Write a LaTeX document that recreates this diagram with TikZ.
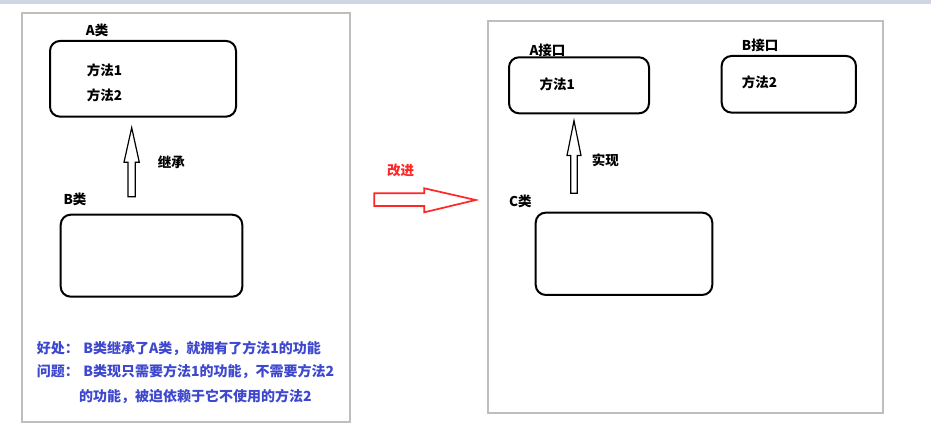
\documentclass[tikz,border=0pt]{standalone}
\usepackage{fontspec}
\setmainfont{Noto Sans CJK SC}
\usetikzlibrary{calc}
\definecolor{framegray}{RGB}{190,190,190}
\definecolor{notered}{RGB}{255,38,38}
\definecolor{noteblue}{RGB}{62,72,206}
\definecolor{stripblue}{RGB}{206,213,227}
\tikzset{
    label text/.style = {
        font = \bfseries\fontsize{13.5}{16}\selectfont,
        anchor = west,
        inner sep = 0pt,
        },
    note text/.style = {
        font = \bfseries\fontsize{14}{17}\selectfont,
        text = noteblue,
        anchor = west,
        inner sep = 0pt,
        },
    box/.style = {
        draw,
        line width = 2pt,
        rounded corners = 10pt,
        inner sep = 0pt,
        outer sep = 0pt,
        },
    frame/.style = {
        draw = framegray,
        line width = 2pt,
        },
    hollow arrow/.style = {
        draw,
        line width = 1.2pt,
        fill = white,
        line join = miter,
        },
}

\begin{document}
\begin{tikzpicture}[
                x = 1pt, y = -1pt,
                red arrow/.style = {draw = notered, line width = 1.7pt, fill = white},
            ]
            \useasboundingbox (0,0) rectangle (931,435);
            \fill[white] (0,0) rectangle (931,435);
            \fill[stripblue] (0,0) rectangle (931,4.5);

            \draw[frame] (21.7,13.3) rectangle (350,421.7);
            \draw[frame] (487.7,20.7) rectangle (883.3,412.7);

            % left: inheritance
            \node [box, minimum width=186pt, minimum height=75.7pt] (classA) at (143,78.8) {};
            \node [box, minimum width=181.6pt, minimum height=82pt] (classB) at (151.5,255.7) {};
            \node [label text] (nameA) at (85.7,30) {A类};
            \node [label text] (methA1) at (86.7,70) {方法1};
            \node [label text] (methA2) at (86.7,95) {方法2};
            \node [label text] (nameB) at (63.3,199) {B类};
            \node [label text] (inherit) at (157.7,162.3) {继承};

            \coordinate (inherit tip) at (131.7,127.7);
            \coordinate (inherit tail) at (131.7,196.7);
            \draw[hollow arrow] ([xshift=-3.7pt]inherit tail) -- ++(0,-34.4) -- ++(-4,0) -- (inherit tip)
                -- ++(7.6,34.6) -- ++(-4,0) -- ++(0,34.4) -- cycle;

            \node [note text] (good) at (36.7,348.3) {好处：\hspace{4.6pt}B类继承了A类，就拥有了方法1的功能};
            \node [note text] (issue) at (36.7,371) {问题：\hspace{4.6pt}B类现只需要方法1的功能，不需要方法2};
            \node [note text] (issue2) at (79,396.7) {的功能，被迫依赖于它不使用的方法2};

            % middle
            \node [label text, text=notered] (improve) at (387,170) {改进};
            \coordinate (improve tail) at (374.3,200);
            \coordinate (improve tip) at (475.7,200);
            \draw[red arrow] ([yshift=6.7pt]improve tail) -- ++(50,0) -- ++(0,-5) -- (improve tip)
                -- ++(-51.4,12.3) -- ++(0,-6.3) -- ++(-50,0) -- cycle;

            % right: interfaces
            \node [box, minimum width=140pt, minimum height=56pt] (ifaceA) at (579,85.3) {};
            \node [box, minimum width=134.3pt, minimum height=56.7pt] (ifaceB) at (788.8,84.3) {};
            \node [box, minimum width=176.6pt, minimum height=82.3pt] (classC) at (624,253.8) {};
            \node [label text] (nameIA) at (529.3,50) {A接口};
            \node [label text] (methIA) at (539.3,84) {方法1};
            \node [label text] (nameIB) at (741.7,45) {B接口};
            \node [label text] (methIB) at (741.7,82.7) {方法2};
            \node [label text] (nameC) at (509,201.7) {C类};
            \node [label text] (realize) at (591.7,160) {实现};

            \coordinate (realize tip) at (574,120.7);
            \coordinate (realize tail) at (574,193.3);
            \draw[hollow arrow] ([xshift=-3.3pt]realize tail) -- ++(0,-37.8) -- ++(-3.7,0) -- (realize tip)
                -- ++(7,34.8) -- ++(-3.7,0) -- ++(0,37.8) -- cycle;
        \end{tikzpicture}
\end{document}
